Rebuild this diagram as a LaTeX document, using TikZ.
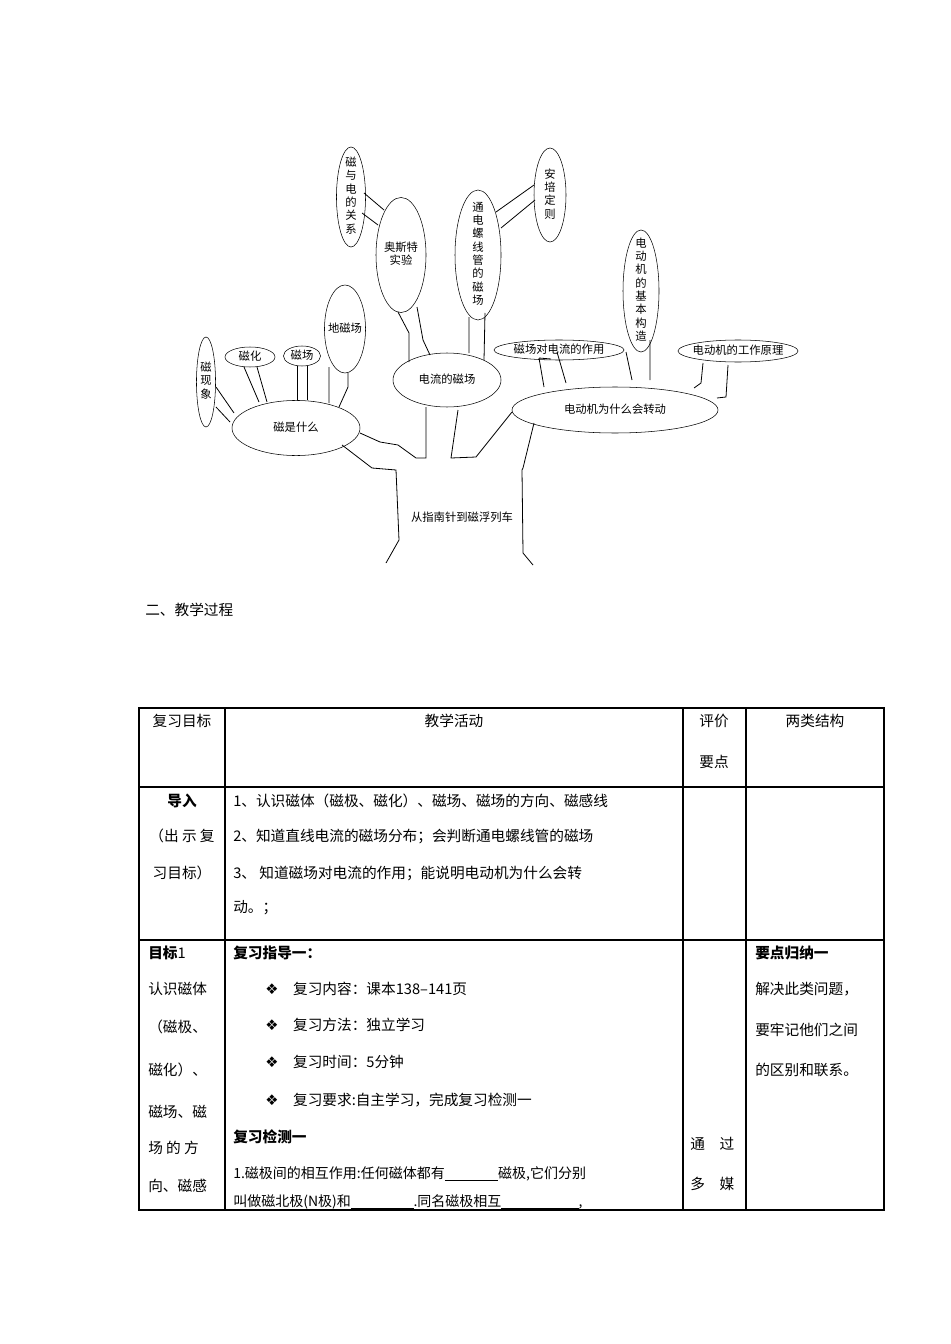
\documentclass[tikz,border=0pt]{standalone}
\usepackage{fontspec}
\setmainfont{Noto Sans CJK SC}
\newfontfamily\sym{DejaVu Sans}
\usetikzlibrary{shapes.geometric}
\newcommand\zt[1]{\makebox[0pt]{\smash{\raisebox{-0.25em}{\begin{tabular}{@{}c@{}}#1\end{tabular}}}}}
\begin{document}
\begin{tikzpicture}[x=0.75pt,y=-0.75pt,
 el/.style={draw,ellipse,inner sep=0pt,font=\fontsize{8.5}{9.5}\selectfont},
 br/.style={draw,line width=0.6pt},
 tx/.style={anchor=west,inner sep=0pt,font=\fontsize{11}{12}\selectfont},
 tc/.style={anchor=center,inner sep=0pt,font=\fontsize{11}{12}\selectfont}]
\useasboundingbox (0,0) rectangle (950,1344);
% ellipses (sizes in pt = px*0.75)
\node[el,minimum width=14.3pt,minimum height=67.5pt] (xx) at (206,382) {\zt{磁\\现\\象}};
\node[el,minimum width=37.5pt,minimum height=15pt] (ch) at (250,357) {\zt{磁化}};
\node[el,minimum width=27.8pt,minimum height=15pt] (cc) at (302,356) {\zt{磁场}};
\node[el,minimum width=30.8pt,minimum height=66pt] (dc) at (345,329) {\zt{地磁场}};
\node[el,minimum width=96pt,minimum height=41.3pt] (cs) at (296,428) {\zt{磁是什么}};
\node[el,minimum width=21.8pt,minimum height=75pt] (cy) at (351,197) {\zt{磁\\与\\电\\的\\关\\系}};
\node[el,minimum width=37.5pt,minimum height=86.3pt] (ao) at (401,255) {\zt{奥斯特\\实验}};
\node[el,minimum width=81pt,minimum height=40.5pt] (dl) at (447,380) {\zt{电流的磁场}};
\node[el,minimum width=34.5pt,minimum height=97.5pt] (td) at (478,255) {\zt{通\\电\\螺\\线\\管\\的\\磁\\场}};
\node[el,minimum width=24pt,minimum height=70.5pt] (ap) at (550,195) {\zt{安\\培\\定\\则}};
\node[el,minimum width=27pt,minimum height=91.5pt] (jb) at (641,291) {\zt{电\\动\\机\\的\\基\\本\\构\\造}};
\node[el,minimum width=97.5pt,minimum height=15pt] (zy) at (559,350) {\zt{磁场对电流的作用}};
\node[el,minimum width=90pt,minimum height=16.5pt] (gz) at (738,351) {\zt{电动机的工作原理}};
\node[el,minimum width=154.5pt,minimum height=34.5pt] (zd) at (615,410) {\zt{电动机为什么会转动}};
\node[inner sep=0pt,font=\fontsize{8.5}{10}\selectfont] (tr) at (462,517) {从指南针到磁浮列车};
% branches
\draw[br] (216,387)--(234,413) (216,407)--(230,422);
\draw[br] (244,367)--(259,402) (257,367)--(267,402);
\draw[br] (297,366)--(297,400) (307,366)--(307,400);
\draw[br] (329,367)--(329,403) (348,373)--(348,387)--(339,407);
\draw[br] (364,193)--(384,210) (362,213)--(378,225);
\draw[br] (398,312)--(409,333)--(409,362) (417,307)--(423,340)--(430,355);
\draw[br] (469,317)--(469,353) (485,313)--(484,360);
\draw[br] (534,185)--(496,212) (535,200)--(501,228);
\draw[br] (539,358)--(544,387) (557,352)--(566,383) (539,358)--(551,359);
\draw[br] (626,352)--(632,380) (650,340)--(650,380);
\draw[br] (703,363)--(701,383)--(694,388) (728,365)--(726,397)--(717,398);
% trunk
\draw[br] (342,445)--(372,468)--(396,470)--(399,540)--(386,563);
\draw[br] (360,433)--(380,442)--(398,445)--(416,458)--(426,458)--(426,407);
\draw[br] (458,410)--(451,458)--(476,457)--(512,412);
\draw[br] (534,423)--(523,468)--(522,470)--(523,553)--(533,565);
% heading
\node[tx] (h2) at (145,610) {二、教学过程};
% table
\draw[line width=0.8pt] (139,708) rectangle (884,1210);
\draw[line width=0.8pt] (225,708)--(225,1210) (683,708)--(683,1210) (746,708)--(746,1210)
 (139,787)--(884,787) (139,940)--(884,940);
\node[tc] (a1) at (182,721) {复习目标};
\node[tc] (a2) at (454,721) {教学活动};
\node[tc] (a3) at (714,721) {评价};
\node[tc] (a4) at (714,762) {要点};
\node[tc] (a5) at (815,721) {两类结构};
\node[tc] (b1) at (182,801) {\textbf{导入}};
\node[tc] (b2) at (182,836) {（出 示 复};
\node[tc] (b3) at (182,873) {习目标）};
\node[tx] (c1) at (233,801) {1、认识磁体（磁极、磁化）、磁场、磁场的方向、磁感线};
\node[tx] (c2) at (233,836) {2、知道直线电流的磁场分布；会判断通电螺线管的磁场};
\node[tx] (c3) at (233,873) {3、 知道磁场对电流的作用；能说明电动机为什么会转};
\node[tx] (c4) at (233,908) {动。；};
\node[tx] (d1) at (148,953) {\textbf{目标}1};
\node[tx] (d2) at (148,989) {认识磁体};
\node[tx] (d3) at (148,1027) {（磁极、};
\node[tx] (d4) at (148,1070) {磁化）、};
\node[tx] (d5) at (148,1112) {磁场、磁};
\node[tx] (d6) at (148,1148) {场 的 方};
\node[tx] (d7) at (148,1186) {向、磁感};
\node[tx] (e1) at (233,953) {\textbf{复习指导一：}};
\node[tx] (e2) at (265,989) {{\sym ❖}\quad 复习内容：课本138--141页};
\node[tx] (e3) at (265,1025) {{\sym ❖}\quad 复习方法：独立学习};
\node[tx] (e4) at (265,1062) {{\sym ❖}\quad 复习时间：5分钟};
\node[tx] (e5) at (265,1100) {{\sym ❖}\quad 复习要求:自主学习，完成复习检测一};
\node[tx] (e6) at (233,1137) {\textbf{复习检测一}};
\node[tx,font=\fontsize{10.5}{12}\selectfont] (e7) at (233,1174) {1.磁极间的相互作用:任何磁体都有\underline{\hspace{40pt}}磁极,它们分别};
\node[tx,font=\fontsize{10.5}{12}\selectfont] (e8) at (233,1202) {叫做磁北极(N极)和\underline{\hspace{47pt}}.同名磁极相互\underline{\hspace{58pt}},};
\node[tx] (f1) at (690,1144) {通\quad 过};
\node[tx] (f2) at (690,1184) {多\quad 媒};
\node[tx] (g1) at (755,953) {\textbf{要点归纳一}};
\node[tx] (g2) at (755,989) {解决此类问题，};
\node[tx] (g3) at (755,1030) {要牢记他们之间};
\node[tx] (g4) at (755,1070) {的区别和联系。};
\end{tikzpicture}
\end{document}
